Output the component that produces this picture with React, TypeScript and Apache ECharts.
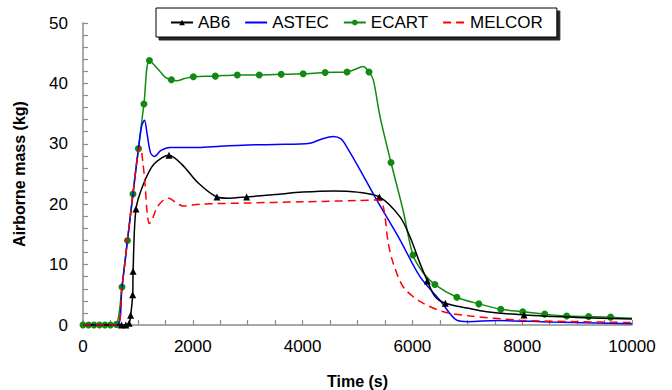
import React, { useEffect, useRef } from "react";
import * as echarts from "echarts";

// AB6 (black, triangles)
const ab6T = [0, 600, 700, 780, 840, 868, 905, 912, 965, 1100, 1290, 1567, 1800, 2100, 2440, 2650, 2980, 3500, 4000, 4560, 5000, 5398, 5774, 5956, 6138, 6272, 6412, 6600, 7000, 7353, 8033, 9000, 10000];
const ab6V = [0, 0, 0, 0, 0.3, 1.6, 5.0, 8.9, 19.2, 23.3, 26.6, 28.1, 26.6, 23.5, 21.2, 21.0, 21.2, 21.6, 22.0, 22.2, 22.0, 21.2, 17.9, 14.6, 10.2, 7.3, 4.7, 3.6, 2.8, 2.2, 1.65, 1.25, 1.0];
const ab6Mark = [0, 0, 1, 1, 1, 1, 1, 1, 1, 0, 0, 1, 0, 0, 1, 0, 1, 0, 0, 0, 0, 1, 0, 0, 0, 1, 0, 1, 0, 0, 1, 0, 0];

// ASTEC (blue, no markers)
const astecT = [0, 620, 710, 810, 910, 1010, 1070, 1120, 1170, 1230, 1300, 1420, 1585, 2100, 2500, 3000, 3500, 4135, 4350, 4560, 4700, 4803, 5046, 5350, 5774, 6138, 6503, 6806, 7020, 7535, 8500, 10000];
const astecV = [0, 0, 6.3, 14.0, 21.7, 29.2, 33.0, 33.9, 31.5, 28.5, 27.9, 28.9, 29.4, 29.4, 29.6, 29.8, 29.9, 30.1, 30.8, 31.2, 30.8, 29.5, 25.7, 20.7, 14.1, 8.0, 4.1, 0.8, 0.55, 0.75, 0.5, 0.2];

// ECART (green, circles)
const ecartT = [0, 100, 200, 300, 400, 500, 610, 710, 810, 910, 1010, 1110, 1210, 1400, 1500, 1610, 1706, 1850, 2010, 2410, 2810, 3210, 3610, 4010, 4410, 4810, 4950, 5100, 5210, 5290, 5410, 5610, 5830, 6010, 6200, 6410, 6810, 7210, 7610, 8010, 8410, 8810, 9210, 9610, 10000];
const ecartV = [0, 0, 0, 0, 0, 0, 0.1, 6.3, 14.0, 21.7, 29.2, 36.6, 43.8, 42.0, 41.0, 40.6, 40.45, 40.8, 41.1, 41.2, 41.4, 41.4, 41.5, 41.6, 41.8, 41.9, 42.3, 42.8, 41.9, 40.5, 34.5, 26.9, 19.0, 11.6, 8.6, 6.7, 4.6, 3.5, 2.6, 2.2, 1.8, 1.5, 1.4, 1.3, 1.1];
const ecartMark = [1, 1, 1, 1, 1, 1, 1, 1, 1, 1, 1, 1, 1, 0, 0, 1, 0, 0, 1, 1, 1, 1, 1, 1, 1, 1, 0, 0, 1, 0, 0, 1, 0, 1, 0, 1, 1, 1, 1, 1, 1, 1, 1, 1, 0];

// MELCOR (red, dashed)
const melcorT = [0, 620, 710, 810, 910, 1000, 1044, 1090, 1130, 1170, 1208, 1260, 1350, 1480, 1567, 1700, 1827, 2131, 3000, 4000, 5000, 5350, 5440, 5501, 5561, 5652, 5834, 6138, 6563, 7049, 7960, 9000, 10000];
const melcorV = [0, 0, 6.3, 14.0, 21.7, 28.5, 29.5, 27.0, 23.3, 18.5, 16.8, 17.5, 19.5, 20.8, 21.0, 20.2, 19.7, 20.0, 20.2, 20.4, 20.6, 20.7, 20.5, 17.9, 13.5, 10.2, 6.3, 3.9, 2.2, 1.5, 0.8, 0.55, 0.4];

const legendNames = ["AB6", "ASTEC", "ECART", "MELCOR"];
const legendNoMarker = ["ASTEC", "MELCOR"];

const FONT = "'Liberation Sans', Arial, sans-serif";

function build(t: number[], v: number[], mark?: number[], sym?: string) {
  return t.map((x, i) =>
    mark ? { value: [x, v[i]], symbol: mark[i] ? sym : "none" } : { value: [x, v[i]] }
  );
}

export default function App() {
  const ref = useRef<HTMLDivElement>(null);
  useEffect(() => {
    if (!ref.current) return;
    const chart = echarts.init(ref.current, undefined, { renderer: "svg" });
    const axisGrey = "#8c8c8c";
    chart.setOption({
      animation: false,
      backgroundColor: "#ffffff",
      textStyle: { fontFamily: FONT },
      grid: { left: 83, right: 40, top: 23, bottom: 65, containLabel: false, outerBoundsMode: "none" },
      legend: {
        left: 156,
        top: 8,
        padding: [6, 14, 6, 14],
        itemGap: 14,
        itemWidth: 22,
        itemHeight: 7,
        backgroundColor: "#ffffff",
        borderColor: "#000000",
        borderWidth: 1,
        borderRadius: 0,
        shadowColor: "rgba(0,0,0,0.85)",
        shadowBlur: 1,
        shadowOffsetX: 3,
        shadowOffsetY: 3,
        textStyle: { fontSize: 17, color: "#000", fontFamily: FONT },
        data: legendNames.map((n) =>
          legendNoMarker.includes(n)
            ? { name: n, itemStyle: { color: "rgba(0,0,0,0)", borderWidth: 0, opacity: 0 } }
            : { name: n }
        ),
      },
      xAxis: {
        type: "value",
        min: 0,
        max: 10000,
        interval: 2000,
        name: "Time (s)",
        nameLocation: "middle",
        nameGap: 48,
        nameTextStyle: { fontSize: 16, fontWeight: "bold", color: "#000", fontFamily: FONT },
        axisLine: { show: true, lineStyle: { color: axisGrey, width: 1.5 } },
        axisTick: { show: true, inside: true, length: 5, lineStyle: { color: axisGrey, width: 1.2 } },
        minorTick: { show: true, splitNumber: 4, length: 5, lineStyle: { color: axisGrey, width: 1.2 } },
        axisLabel: { fontSize: 17, color: "#000", margin: 13, fontFamily: FONT, formatter: (v: number) => String(v) },
        splitLine: { show: false },
      },
      yAxis: {
        type: "value",
        min: 0,
        max: 50,
        interval: 10,
        name: "Airborne mass (kg)",
        nameLocation: "middle",
        nameGap: 56,
        nameTextStyle: { fontSize: 16, fontWeight: "bold", color: "#000", fontFamily: FONT },
        axisLine: { show: true, lineStyle: { color: axisGrey, width: 1.5 } },
        axisTick: { show: true, inside: true, length: 5, lineStyle: { color: axisGrey, width: 1.2 } },
        minorTick: { show: true, splitNumber: 5, length: 5, lineStyle: { color: axisGrey, width: 1.2 } },
        axisLabel: { fontSize: 17, color: "#000", margin: 15, fontFamily: FONT },
        splitLine: { show: false },
      },
      series: [
        {
          name: "AB6",
          type: "line",
          smooth: 0.3,
          symbol: "triangle",
          symbolSize: 7,
          showAllSymbol: true,
          z: 4,
          lineStyle: { color: "#000000", width: 1.5 },
          itemStyle: { color: "#000000" },
          data: build(ab6T, ab6V, ab6Mark, "triangle"),
        },
        {
          name: "ASTEC",
          type: "line",
          smooth: 0.3,
          symbol: "none",
          z: 3,
          lineStyle: { color: "#0000ff", width: 1.5 },
          itemStyle: { color: "#0000ff" },
          data: build(astecT, astecV),
        },
        {
          name: "ECART",
          type: "line",
          smooth: 0.3,
          symbol: "circle",
          symbolSize: 7,
          showAllSymbol: true,
          z: 2,
          lineStyle: { color: "#108a10", width: 1.5 },
          itemStyle: { color: "#108a10" },
          data: build(ecartT, ecartV, ecartMark, "circle"),
        },
        {
          name: "MELCOR",
          type: "line",
          smooth: 0.3,
          symbol: "none",
          z: 5,
          lineStyle: { color: "#ff0000", width: 1.5, type: [8, 5] },
          itemStyle: { color: "#ff0000" },
          data: build(melcorT, melcorV),
        },
      ],
    });
    return () => chart.dispose();
  }, []);
  return <div ref={ref} style={{ position: "absolute", left: 0, top: 0, width: 672, height: 390 }} />;
}
